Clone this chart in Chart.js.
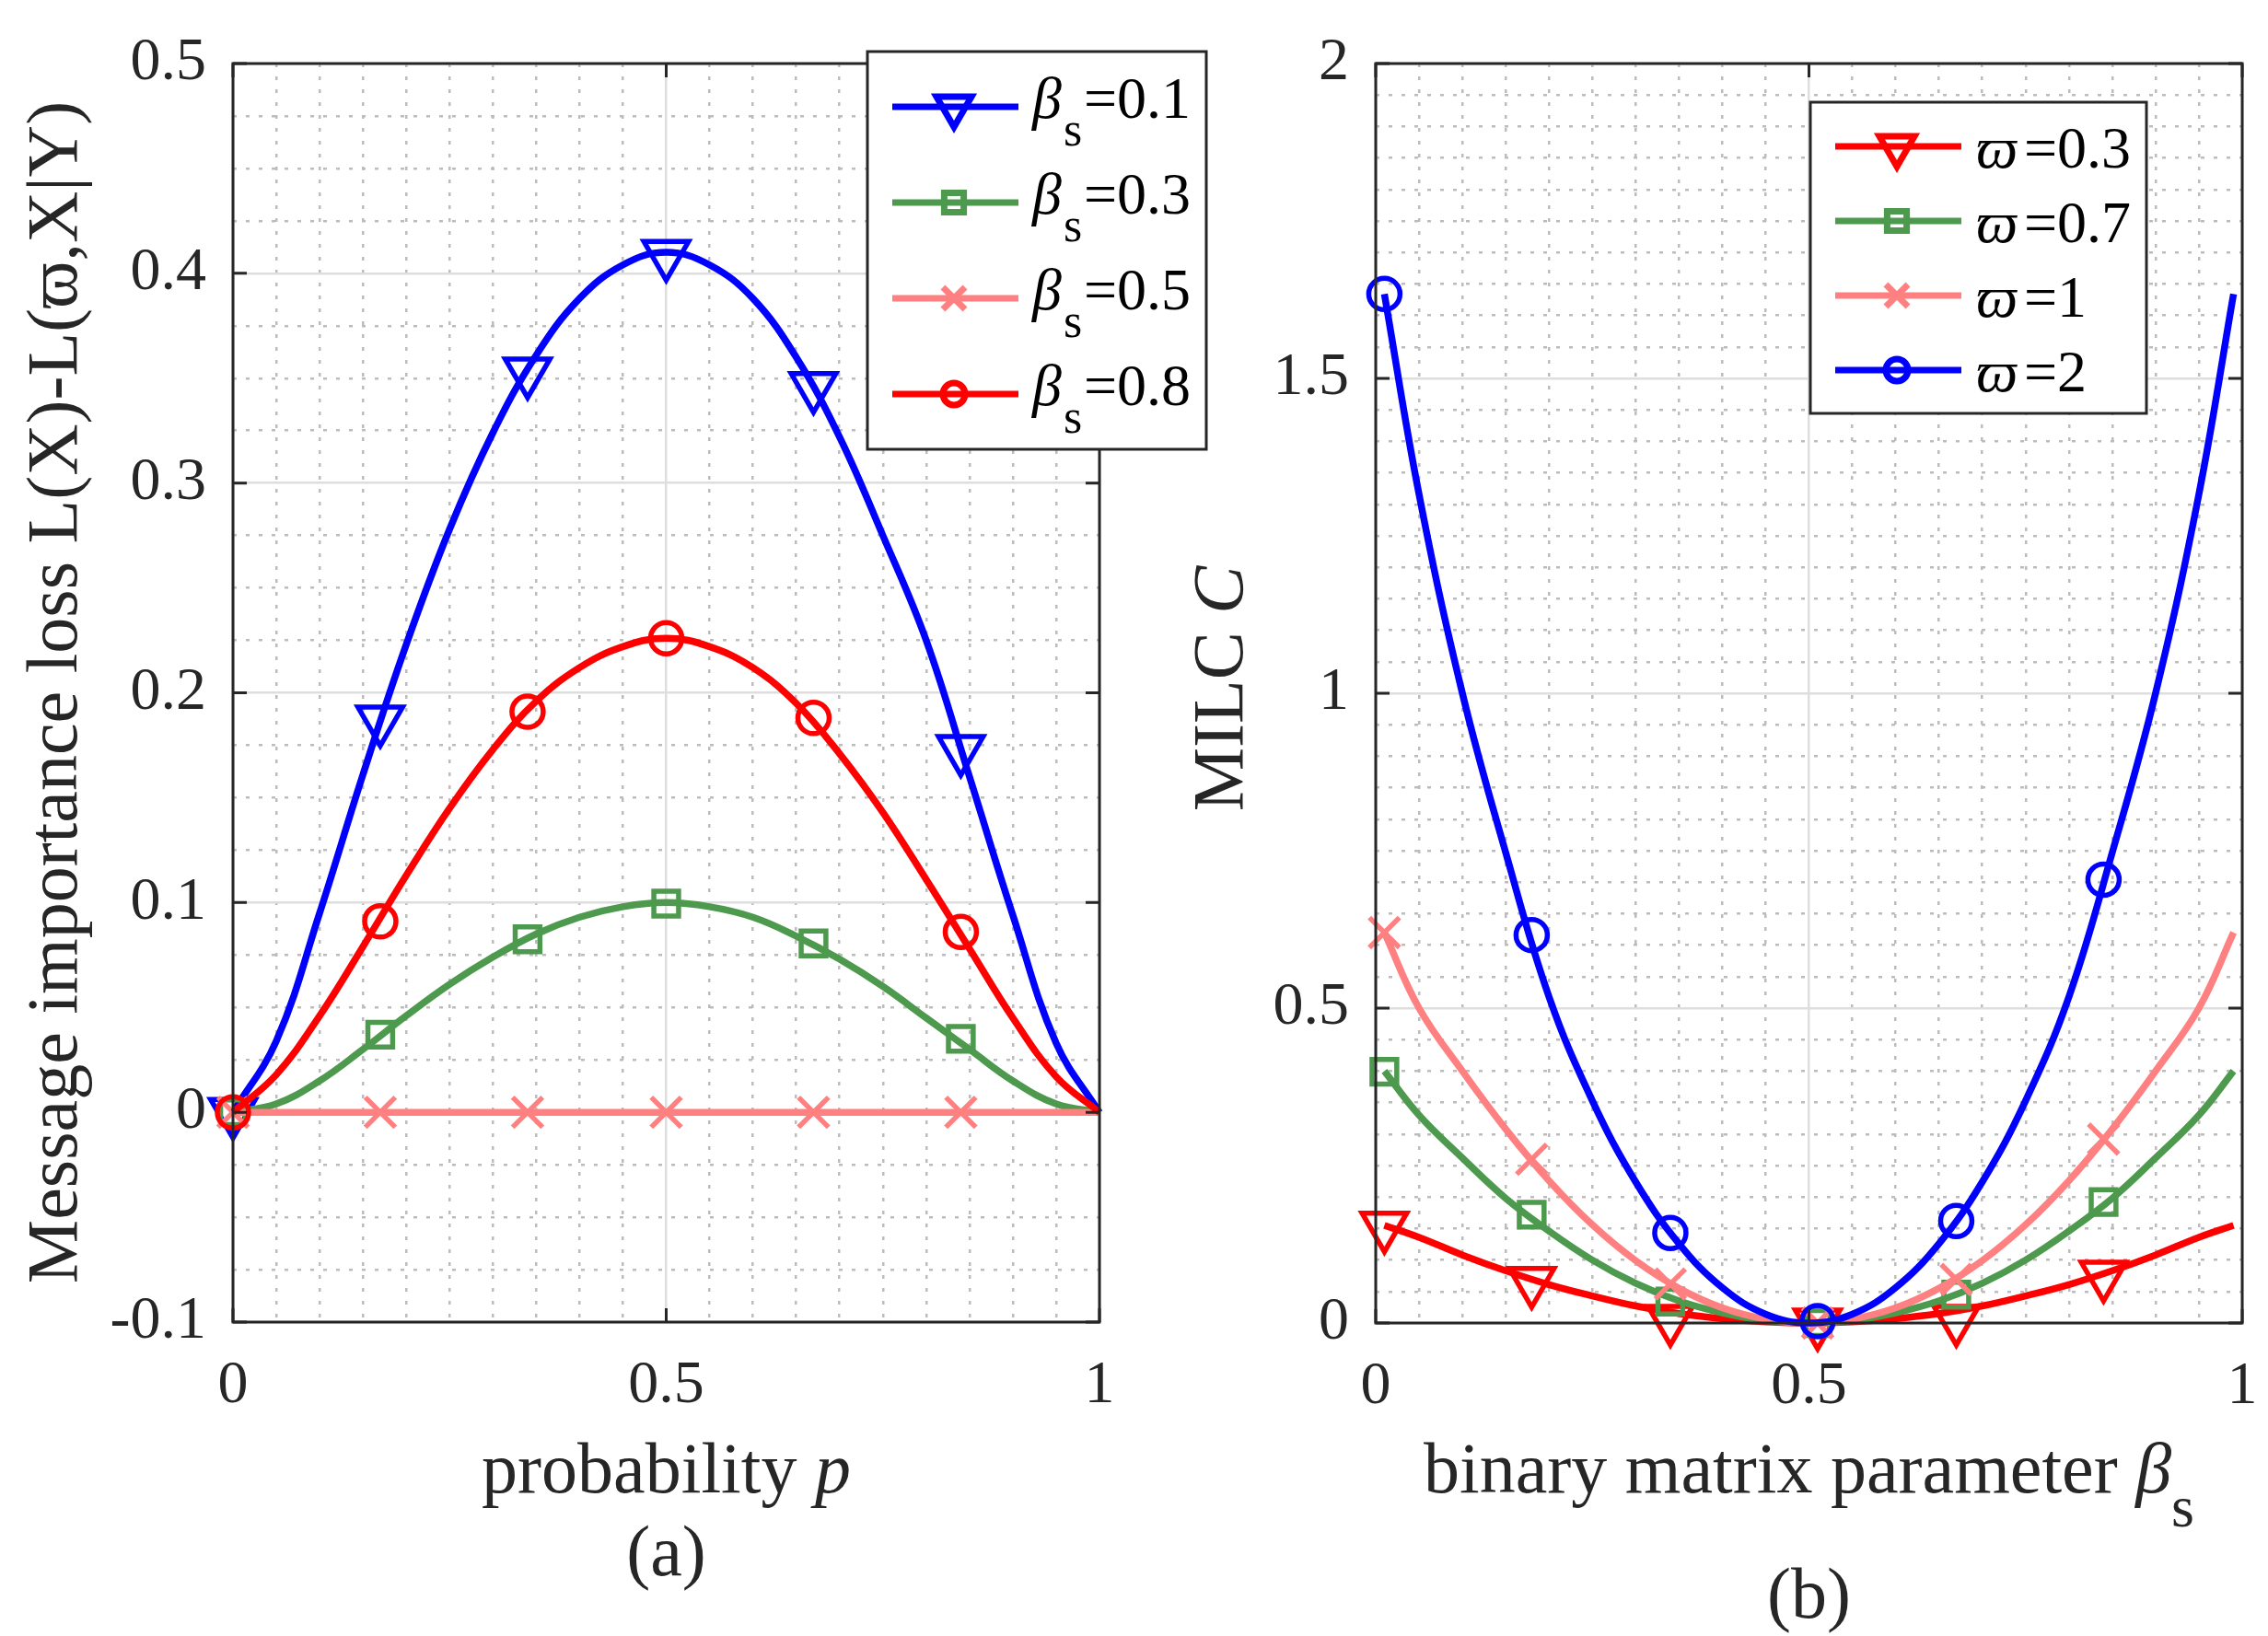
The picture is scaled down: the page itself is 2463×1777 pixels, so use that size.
<!DOCTYPE html>
<html>
<head>
<meta charset="utf-8">
<script src="https://cdn.jsdelivr.net/npm/chart.js"></script>
<style>
  html, body { margin: 0; padding: 0; background: #ffffff; }
  body { width: 2463px; height: 1777px; position: relative; overflow: hidden; }
  canvas { position: absolute; top: 0; }
  #chartA { left: 0; }
  #chartB { left: 1240px; }
</style>
</head>
<body>
<canvas id="chartA" width="1330" height="1777"></canvas>
<canvas id="chartB" width="1270" height="1777"></canvas>
<script>
// ---- (a) message importance loss vs probability p ----
const pValues = [0, 0.05, 0.1, 0.15, 0.2, 0.25, 0.3, 0.35, 0.4, 0.45, 0.5,
                 0.55, 0.6, 0.65, 0.7, 0.75, 0.8, 0.85, 0.9, 0.95, 1];
const lossBeta01 = [0, 0.034, 0.095, 0.161, 0.223, 0.278, 0.324, 0.361, 0.388, 0.404, 0.410,
                    0.404, 0.388, 0.360, 0.322, 0.275, 0.225, 0.160, 0.094, 0.033, 0];
const lossBeta03 = [0, 0.004, 0.015, 0.030, 0.046, 0.061, 0.074, 0.085, 0.093, 0.098, 0.100,
                    0.098, 0.093, 0.084, 0.073, 0.060, 0.045, 0.030, 0.015, 0.004, 0];
const lossBeta05 = [0, 0, 0, 0, 0, 0, 0, 0, 0, 0, 0, 0, 0, 0, 0, 0, 0, 0, 0, 0, 0];
const lossBeta08 = [0, 0.018, 0.046, 0.079, 0.113, 0.145, 0.173, 0.196, 0.212, 0.222, 0.226,
                    0.222, 0.212, 0.195, 0.171, 0.143, 0.111, 0.078, 0.045, 0.017, 0];
const markP = [0, 0.17, 0.34, 0.5, 0.67, 0.84];
const markBeta01 = [0, 0.187, 0.353, 0.409, 0.346, 0.173];
const markBeta03 = [0, 0.037, 0.0825, 0.0995, 0.0805, 0.035];
const markBeta05 = [0, 0, 0, 0, 0, 0];
const markBeta08 = [0, 0.091, 0.191, 0.226, 0.188, 0.086];
const betaLabels = ['0.1', '0.3', '0.5', '0.8'];

// ---- (b) MILC C vs binary matrix parameter beta_s ----
const betaValues = [0.01, 0.05, 0.1, 0.15, 0.2, 0.25, 0.3, 0.35, 0.4, 0.45, 0.5,
                    0.55, 0.6, 0.65, 0.7, 0.75, 0.8, 0.85, 0.9, 0.95, 0.99];
const milcVarpi03 = [0.155, 0.136, 0.108, 0.083, 0.061, 0.043, 0.027, 0.015, 0.007, 0.002, 0,
                     0.002, 0.007, 0.015, 0.027, 0.043, 0.061, 0.083, 0.108, 0.136, 0.155];
const milcVarpi07 = [0.400, 0.330, 0.262, 0.198, 0.146, 0.100, 0.063, 0.035, 0.016, 0.004, 0,
                     0.004, 0.016, 0.035, 0.063, 0.100, 0.146, 0.198, 0.262, 0.330, 0.400];
const milcVarpi1 = [0.620, 0.500, 0.400, 0.308, 0.226, 0.156, 0.099, 0.055, 0.024, 0.006, 0,
                    0.006, 0.024, 0.055, 0.099, 0.156, 0.226, 0.308, 0.400, 0.500, 0.620];
const milcVarpi2 = [1.634, 1.316, 1.000, 0.747, 0.518, 0.353, 0.224, 0.126, 0.056, 0.014, 0,
                    0.014, 0.056, 0.126, 0.224, 0.353, 0.518, 0.747, 1.000, 1.316, 1.634];
const markBeta = [0.01, 0.18, 0.34, 0.51, 0.67, 0.84];
const markVarpi03 = [0.154, 0.066, 0.006, 0, 0.006, 0.076];
const markVarpi07 = [0.399, 0.172, 0.034, 0, 0.045, 0.192];
const markVarpi1 = [0.620, 0.260, 0.062, 0, 0.069, 0.292];
const markVarpi2 = [1.634, 0.616, 0.143, 0.003, 0.162, 0.704];
const varpiLabels = ['0.3', '0.7', '1', '2'];

const BLUE = '#0000ff', GREEN = '#4d994d', PINK = '#ff8080', RED = '#ff0000';
const AXIS_COLOR = '#262626';
const MAJOR_GRID = '#dedede';
const MINOR_GRID = '#bcbcbc';
const SERIF = '"Liberation Serif", "Times New Roman", "DejaVu Serif", serif';

function isMajor(v, step) {
    const r = v / step;
    return Math.abs(r - Math.round(r)) < 1e-6;
}
function fmt(v) {
    return String(Math.round(v * 100) / 100);
}

function drawMarker(ctx, style, x, y, r, color, lw) {
    ctx.save();
    ctx.strokeStyle = color;
    ctx.lineWidth = lw;
    ctx.beginPath();
    if (style === 'triangleDown') {
        ctx.moveTo(x - r * 0.866, y - r * 0.5);
        ctx.lineTo(x + r * 0.866, y - r * 0.5);
        ctx.lineTo(x, y + r);
        ctx.closePath();
    } else if (style === 'rect') {
        const s = r * Math.SQRT1_2;
        ctx.rect(x - s, y - s, 2 * s, 2 * s);
    } else if (style === 'crossRot') {
        const s = r * Math.SQRT1_2;
        ctx.moveTo(x - s, y - s); ctx.lineTo(x + s, y + s);
        ctx.moveTo(x + s, y - s); ctx.lineTo(x - s, y + s);
    } else {
        ctx.arc(x, y, r, 0, Math.PI * 2);
    }
    ctx.stroke();
    ctx.restore();
}

// text made of pieces with different fonts
function drawRuns(ctx, runs, cx, baseline) {
    let total = 0;
    runs.forEach(r => { ctx.font = r.font; total += ctx.measureText(r.text).width; });
    let x = cx - total / 2;
    ctx.textAlign = 'left';
    ctx.textBaseline = 'alphabetic';
    runs.forEach(r => {
        ctx.font = r.font;
        ctx.fillText(r.text, x, baseline + (r.dy || 0));
        x += ctx.measureText(r.text).width;
    });
}

const decorPlugin = {
    id: 'decor',
    afterDraw(chart, args, opts) {
        const {ctx, chartArea: a} = chart;
        const xs = chart.scales.x, ys = chart.scales.y;
        ctx.save();
        // inward tick marks
        ctx.strokeStyle = AXIS_COLOR;
        ctx.lineWidth = 3;
        ctx.beginPath();
        xs.ticks.forEach(t => {
            const px = xs.getPixelForValue(t.value);
            ctx.moveTo(px, a.bottom); ctx.lineTo(px, a.bottom - 15);
            ctx.moveTo(px, a.top); ctx.lineTo(px, a.top + 15);
        });
        ys.ticks.forEach(t => {
            const py = ys.getPixelForValue(t.value);
            ctx.moveTo(a.left, py); ctx.lineTo(a.left + 15, py);
            ctx.moveTo(a.right, py); ctx.lineTo(a.right - 15, py);
        });
        ctx.stroke();
        // axes box
        ctx.strokeRect(a.left, a.top, a.right - a.left, a.bottom - a.top);

        // axis titles
        ctx.fillStyle = AXIS_COLOR;
        const reg = '78px ' + SERIF, ita = 'italic 78px ' + SERIF;
        const cx = (a.left + a.right) / 2;
        drawRuns(ctx, opts.xTitle.map(r => ({text: r[0], font: r[1] === 'i' ? ita : (r[1] === 's' ? '64px ' + SERIF : reg), dy: r[1] === 's' ? 37 : 0})), cx, 1621);
        drawRuns(ctx, [{text: opts.panel, font: reg}], cx, opts.panelY);
        ctx.save();
        ctx.translate(opts.yTitleX, opts.yTitleY);
        ctx.rotate(-Math.PI / 2);
        drawRuns(ctx, opts.yTitle.map(r => ({text: r[0], font: r[1] === 'i' ? ita : reg})), 0, 0);
        ctx.restore();

        // legend
        const L = opts.legend;
        ctx.fillStyle = '#ffffff';
        ctx.fillRect(L.box[0], L.box[1], L.box[2], L.box[3]);
        ctx.strokeStyle = AXIS_COLOR;
        ctx.lineWidth = 3;
        ctx.strokeRect(L.box[0], L.box[1], L.box[2], L.box[3]);
        L.items.forEach((it, i) => {
            const y = L.rowY[i];
            ctx.strokeStyle = it.color;
            ctx.lineWidth = 7;
            ctx.beginPath();
            ctx.moveTo(L.lineX[0], y); ctx.lineTo(L.lineX[1], y);
            ctx.stroke();
            drawMarker(ctx, it.style, L.markX, y, it.r, it.color, 7);
            ctx.fillStyle = '#000000';
            ctx.textAlign = 'left';
            ctx.textBaseline = 'alphabetic';
            ctx.font = 'italic 64px ' + SERIF;
            ctx.fillText(L.sym, L.symX, y + L.base);
            if (L.sub) {
                const w = ctx.measureText(L.sym).width;
                ctx.font = '52px ' + SERIF;
                ctx.fillText(L.sub, L.symX + w + 2, y + L.base + 30);
            }
            ctx.font = '64px ' + SERIF;
            ctx.fillText('=' + it.label, L.eqX, y + L.base);
        });
        ctx.restore();
    }
};

function seriesSets(xv, lines, mx, marks, styles) {
    const sets = [];
    lines.forEach((vals, i) => {
        const st = styles[i];
        sets.push({
            data: xv.map((x, j) => ({x: x, y: vals[j]})),
            borderColor: st.color,
            borderWidth: 7.5,
            pointRadius: 0,
            fill: false,
            tension: 0.4,
            clip: false,
            order: 100 - 10 * i
        });
        sets.push({
            data: mx.map((x, j) => ({x: x, y: marks[i][j]})),
            showLine: false,
            pointStyle: st.pointStyle,
            pointRotation: st.rotation || 0,
            pointRadius: st.radius,
            pointBorderWidth: 5.5,
            pointBorderColor: st.color,
            pointBackgroundColor: 'rgba(0,0,0,0)',
            clip: false,
            order: 95 - 10 * i
        });
    });
    return sets;
}

function makeChart(id, datasets, ax, pad, yWidth, decor) {
    const tickFont = {family: SERIF, size: 66};
    return new Chart(document.getElementById(id), {
        type: 'line',
        data: {datasets: datasets},
        options: {
            responsive: false,
            animation: false,
            devicePixelRatio: 1,
            events: [],
            layout: {padding: pad},
            plugins: {legend: {display: false}, tooltip: {enabled: false}, decor: decor},
            scales: {
                x: {
                    type: 'linear', min: ax.xMin, max: ax.xMax,
                    afterFit: s => { s.height = 100; },
                    ticks: {stepSize: ax.xStep, font: tickFont, color: AXIS_COLOR, padding: 30,
                            callback: fmt, maxRotation: 0, autoSkip: false},
                    grid: {color: MAJOR_GRID, lineWidth: 2.5, drawTicks: false},
                    border: {display: false}
                },
                xMinor: {
                    type: 'linear', position: 'top', min: ax.xMin, max: ax.xMax,
                    afterFit: s => { s.height = 0; },
                    ticks: {display: false, stepSize: ax.xMinor, maxTicksLimit: 1000},
                    grid: {color: c => isMajor(c.tick.value, ax.xStep) ? 'rgba(0,0,0,0)' : MINOR_GRID,
                           lineWidth: 2.5, drawTicks: false},
                    border: {display: false, dash: [4, 10]}
                },
                y: {
                    type: 'linear', min: ax.yMin, max: ax.yMax,
                    afterFit: s => { s.width = yWidth; },
                    ticks: {stepSize: ax.yStep, font: tickFont, color: AXIS_COLOR, padding: 29,
                            callback: fmt, autoSkip: false},
                    grid: {color: MAJOR_GRID, lineWidth: 2.5, drawTicks: false},
                    border: {display: false}
                },
                yMinor: {
                    type: 'linear', position: 'right', min: ax.yMin, max: ax.yMax,
                    afterFit: s => { s.width = 0; },
                    ticks: {display: false, stepSize: ax.yMinor, maxTicksLimit: 1000},
                    grid: {color: c => isMajor(c.tick.value, ax.yStep) ? 'rgba(0,0,0,0)' : MINOR_GRID,
                           lineWidth: 2.5, drawTicks: false},
                    border: {display: false, dash: [4, 10]}
                }
            }
        },
        plugins: [decorPlugin]
    });
}

// chart (a)
const stylesA = [
    {color: BLUE, pointStyle: 'triangle', rotation: 180, radius: 28},
    {color: GREEN, pointStyle: 'rect', radius: 19},
    {color: PINK, pointStyle: 'crossRot', radius: 23},
    {color: RED, pointStyle: 'circle', radius: 17}
];
makeChart('chartA',
    seriesSets(pValues, [lossBeta01, lossBeta03, lossBeta05, lossBeta08], markP,
               [markBeta01, markBeta03, markBeta05, markBeta08], stylesA),
    {xMin: 0, xMax: 1, xStep: 0.5, xMinor: 0.05, yMin: -0.1, yMax: 0.5, yStep: 0.1, yMinor: 0.025},
    {top: 69, left: 0, right: 136, bottom: 241}, 253,
    {
        xTitle: [['probability ', 'r'], ['p', 'i']],
        yTitle: [['Message importance loss L(X)-L(\u03D6,X|Y)', 'r']],
        yTitleX: 83, yTitleY: 752,
        panel: '(a)', panelY: 1711,
        legend: {
            box: [942, 56, 368, 432], rowY: [116, 220, 324, 428], lineX: [969, 1106], markX: 1036,
            symX: 1121, eqX: 1177, base: 12, sym: '\u03B2', sub: 's',
            items: [
                {color: BLUE, style: 'triangleDown', r: 22, label: betaLabels[0]},
                {color: GREEN, style: 'rect', r: 15, label: betaLabels[1]},
                {color: PINK, style: 'crossRot', r: 17, label: betaLabels[2]},
                {color: RED, style: 'circle', r: 12, label: betaLabels[3]}
            ]
        }
    });

// chart (b)
const stylesB = [
    {color: RED, pointStyle: 'triangle', rotation: 180, radius: 28},
    {color: GREEN, pointStyle: 'rect', radius: 19},
    {color: PINK, pointStyle: 'crossRot', radius: 23},
    {color: BLUE, pointStyle: 'circle', radius: 17}
];
makeChart('chartB',
    seriesSets(betaValues, [milcVarpi03, milcVarpi07, milcVarpi1, milcVarpi2], markBeta,
               [markVarpi03, markVarpi07, markVarpi1, markVarpi2], stylesB),
    {xMin: 0, xMax: 1, xStep: 0.5, xMinor: 0.05, yMin: 0, yMax: 2, yStep: 0.5, yMinor: 0.05},
    {top: 69, left: 0, right: 75, bottom: 240}, 254,
    {
        xTitle: [['binary matrix parameter ', 'r'], ['\u03B2', 'i'], ['s', 's']],
        yTitle: [['MILC ', 'r'], ['C', 'i']],
        yTitleX: 109, yTitleY: 748,
        panel: '(b)', panelY: 1757,
        legend: {
            box: [726, 111, 365, 338], rowY: [159, 240, 321, 402], lineX: [753, 890], markX: 820,
            symX: 906, eqX: 958, base: 23, sym: '\u03D6', sub: '',
            items: [
                {color: RED, style: 'triangleDown', r: 22, label: varpiLabels[0]},
                {color: GREEN, style: 'rect', r: 15, label: varpiLabels[1]},
                {color: PINK, style: 'crossRot', r: 17, label: varpiLabels[2]},
                {color: BLUE, style: 'circle', r: 12, label: varpiLabels[3]}
            ]
        }
    });
</script>
</body>
</html>
